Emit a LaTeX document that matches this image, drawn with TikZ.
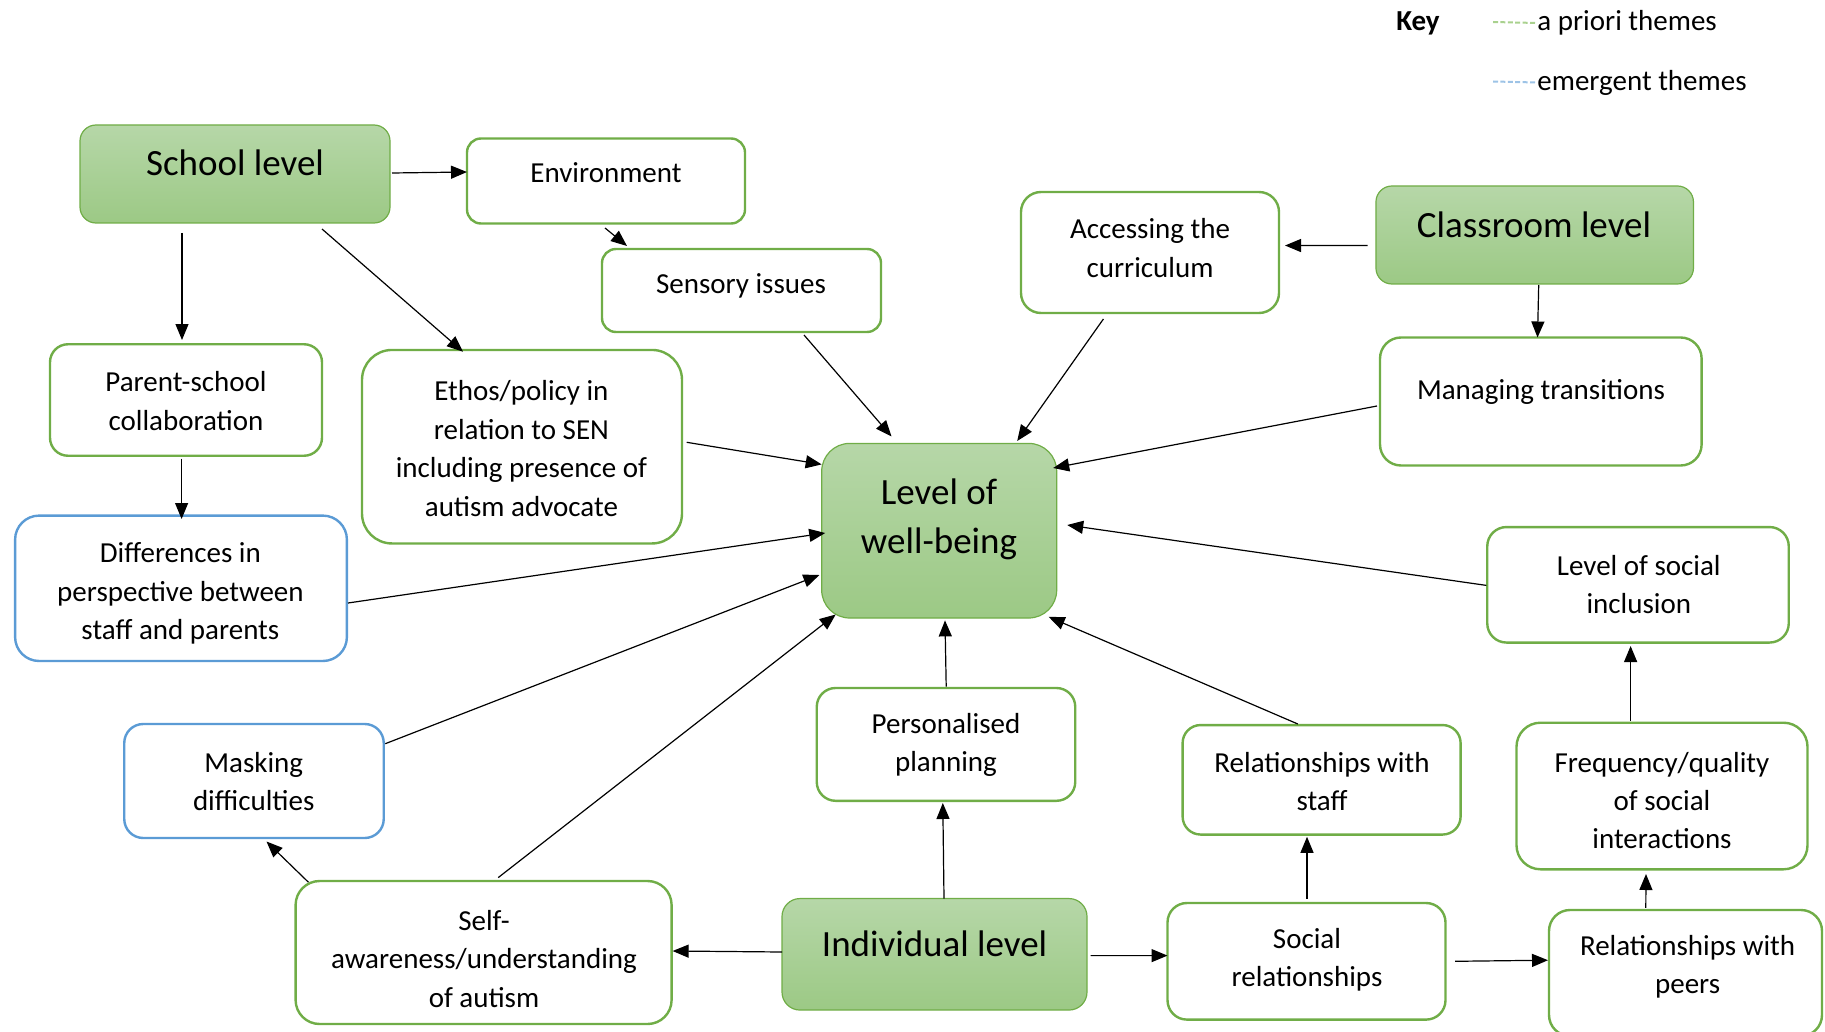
\documentclass[tikz,border=0pt]{standalone}
\usepackage{fontspec}
\setmainfont{Carlito}
\usetikzlibrary{arrows.meta}
\definecolor{grn}{HTML}{70AD47}
\definecolor{blu}{HTML}{5B9BD5}
\definecolor{gtop}{HTML}{B6D7A8}
\definecolor{gbot}{HTML}{9CC985}
\definecolor{kgrn}{HTML}{A9D18E}
\definecolor{kblu}{HTML}{9DC3E6}
\tikzset{
  wbox/.style={draw=grn, line width=1.2pt, fill=white, rectangle, inner sep=0pt},
  bbox/.style={draw=blu, line width=1.2pt, fill=white, rectangle, inner sep=0pt},
  fbox/.style={draw=grn, line width=0.6pt, top color=gtop, bottom color=gbot, rectangle, inner sep=0pt},
  txt/.style={align=center, font=\fontsize{14.5}{19.2}\selectfont, inner sep=0pt, yshift=-0.5pt},
  big/.style={align=center, font=\fontsize{18.5}{24.5}\selectfont, inner sep=0pt},
  arr/.style={-{Triangle[length=8pt,width=6.5pt]}, line width=0.6pt, black},
  keyline/.style={dash pattern=on 2.5pt off 1.2pt, line width=1pt},
}
\begin{document}
\begin{tikzpicture}[x=0.5pt,y=-0.5pt]
\useasboundingbox (0,0) rectangle (1825,1032);
% boxes
\node[fbox, minimum width=155pt, minimum height=49pt, rounded corners=8pt] (school) at (235,174) {};
\node[wbox, minimum width=139pt, minimum height=42.5pt, rounded corners=7pt] (env) at (606,181) {};
\node[wbox, minimum width=139.5pt, minimum height=41.5pt, rounded corners=7pt] (sensory) at (741.5,290.5) {};
\node[wbox, minimum width=129pt, minimum height=60.5pt, rounded corners=10pt] (access) at (1150,252.5) {};
\node[fbox, minimum width=158.75pt, minimum height=49pt, rounded corners=8pt] (classroom) at (1534.7,235) {};
\node[wbox, minimum width=136pt, minimum height=55.75pt, rounded corners=9pt] (parent) at (186,400) {};
\node[wbox, minimum width=160pt, minimum height=96.75pt, rounded corners=15pt] (ethos) at (522,446.7) {};
\node[fbox, minimum width=117.5pt, minimum height=87.3pt, rounded corners=14pt] (wb) at (939.2,530.7) {};
\node[wbox, minimum width=160.8pt, minimum height=64pt, rounded corners=10.5pt] (managing) at (1540.8,401.5) {};
\node[bbox, minimum width=165.9pt, minimum height=72.7pt, rounded corners=12pt] (diff) at (181,588.3) {};
\node[wbox, minimum width=150.75pt, minimum height=57.75pt, rounded corners=9.6pt] (inclusion) at (1638,584.8) {};
\node[bbox, minimum width=129.75pt, minimum height=57pt, rounded corners=9.5pt] (masking) at (254,781) {};
\node[wbox, minimum width=129.25pt, minimum height=56.4pt, rounded corners=9.4pt] (personal) at (946,744.4) {};
\node[wbox, minimum width=139pt, minimum height=54.75pt, rounded corners=9pt] (relstaff) at (1321.6,779.8) {};
\node[wbox, minimum width=145.5pt, minimum height=73.3pt, rounded corners=12pt] (freq) at (1662,796) {};
\node[wbox, minimum width=188pt, minimum height=71.5pt, rounded corners=12pt] (self) at (483.6,952.5) {};
\node[fbox, minimum width=152.5pt, minimum height=55.75pt, rounded corners=9pt] (indiv) at (934.5,954.3) {};
\node[wbox, minimum width=139pt, minimum height=58.3pt, rounded corners=9.7pt] (social) at (1306.5,961.3) {};
\node[wbox, minimum width=136.5pt, minimum height=63pt, rounded corners=10.5pt] (peers) at (1685.5,973) {};
% texts
\node[big] (schoolT) at (235,163) {School level};
\node[txt] (envT) at (606,172) {Environment};
\node[txt] (sensoryT) at (741,285) {Sensory issues};
\node[txt] (accessT) at (1150,247) {Accessing the\\curriculum};
\node[big] (classroomT) at (1534,224.6) {Classroom level};
\node[txt] (parentT) at (186,400) {Parent-school\\collaboration};
\node[txt] (ethosT) at (521.4,447.5) {Ethos/policy in\\relation to SEN\\including presence of\\autism advocate};
\node[big] (wbT) at (939,519) {Level of\\well-being};
\node[txt] (managingT) at (1541,391) {Managing transitions};
\node[txt] (diffT) at (180.4,592.4) {Differences in\\perspective between\\staff and parents};
\node[txt] (inclusionT) at (1638.8,583.7) {Level of social\\inclusion};
\node[txt] (maskingT) at (253.7,780.4) {Masking\\difficulties};
\node[txt] (personalT) at (946,743.7) {Personalised\\planning};
\node[txt] (relstaffT) at (1322,780.4) {Relationships with\\staff};
\node[txt] (freqT) at (1662,799.6) {Frequency/quality\\of social\\interactions};
\node[txt] (selfT) at (484,957.9) {Self-\\awareness/understanding\\of autism};
\node[big] (indivT) at (934.6,944) {Individual level};
\node[txt] (socialT) at (1307,959) {Social\\relationships};
\node[txt] (peersT) at (1687.6,966) {Relationships with\\peers};
% arrows
\draw[arr] ([shift={(157,-1)}]school.center) -- ([shift={(-139,-9)}]env.center);
\draw[arr] ([shift={(-1,47)}]env.center) -- ([shift={(-114.5,-44.5)}]sensory.center);
\draw[arr] ([shift={(-53,59)}]school.center) -- ([shift={(-4,-60)}]parent.center);
\draw[arr] ([shift={(87,55)}]school.center) -- ([shift={(-59,-95)}]ethos.center);
\draw[arr] ([shift={(62.5,44.5)}]sensory.center) -- ([shift={(-47.7,-94.2)}]wb.center);
\draw[arr] ([shift={(-46.6,66.5)}]access.center) -- ([shift={(78,-89.7)}]wb.center);
\draw[arr] ([shift={(-167,10.6)}]classroom.center) -- ([shift={(135,-7)}]access.center);
\draw[arr] ([shift={(4,50)}]classroom.center) -- ([shift={(-3.3,-64)}]managing.center);
\draw[arr] ([shift={(-163.8,4.5)}]managing.center) -- ([shift={(114,-62.7)}]wb.center);
\draw[arr] ([shift={(164.7,-4.4)}]ethos.center) -- ([shift={(-117.5,-66.3)}]wb.center);
\draw[arr] ([shift={(-4.4,58.6)}]parent.center) -- ([shift={(0.6,-69.3)}]diff.center);
\draw[arr] ([shift={(167,14.7)}]diff.center) -- ([shift={(-114,2.3)}]wb.center);
\draw[arr] ([shift={(-151.7,0.6)}]inclusion.center) -- ([shift={(128,-5.7)}]wb.center);
\draw[arr] ([shift={(131.3,-37.3)}]masking.center) -- ([shift={(-119.8,44.3)}]wb.center);
\draw[arr] ([shift={(14.6,-74.9)}]self.center) -- ([shift={(-103.5,83.8)}]wb.center);
\draw[arr] ([shift={(0.2,-57.7)}]personal.center) -- ([shift={(5.8,89.7)}]wb.center);
\draw[arr] ([shift={(-23.8,-55.8)}]relstaff.center) -- ([shift={(109.5,86.2)}]wb.center);
\draw[arr] ([shift={(-31.4,-75.5)}]freq.center) -- ([shift={(-7.4,61.2)}]inclusion.center);
\draw[arr] ([shift={(9.5,-55.8)}]indiv.center) -- ([shift={(-3.2,58.6)}]personal.center);
\draw[arr] ([shift={(-152.5,-2.3)}]indiv.center) -- ([shift={(189,-1.5)}]self.center);
\draw[arr] ([shift={(156,1.3)}]indiv.center) -- ([shift={(-139,-5.7)}]social.center);
\draw[arr] ([shift={(0.5,-62.8)}]social.center) -- ([shift={(-14.6,57)}]relstaff.center);
\draw[arr] ([shift={(148.5,0)}]social.center) -- ([shift={(-137.5,-12.8)}]peers.center);
\draw[arr] ([shift={(-39.7,-65.2)}]peers.center) -- ([shift={(-16,78)}]freq.center);
\draw[arr] ([shift={(-175.2,-70.3)}]self.center) -- ([shift={(12.5,60.5)}]masking.center);
% key
\node[txt, font=\fontsize{14.5}{19.2}\selectfont\bfseries] (keyT) at (1418,22) {Key};
\node[txt, anchor=west] (aprioriT) at (1537,22) {a priori themes};
\node[txt, anchor=west] (emergentT) at (1537,81.5) {emergent themes};
\coordinate (kg) at (1493,22);
\coordinate (kb) at (1493,81.5);
\draw[keyline, kgrn] (kg) -- (aprioriT.west);
\draw[keyline, kblu] (kb) -- (emergentT.west);
\end{tikzpicture}
\end{document}
